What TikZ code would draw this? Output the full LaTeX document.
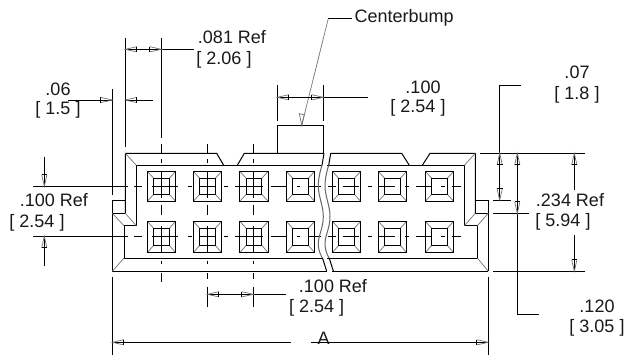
\documentclass[tikz,border=0pt]{standalone}
\usepackage{fontspec}
\setmainfont{Liberation Sans}
\newcommand{\arrR}[2]{\draw[ahgray] (#1-11.5,#2-2.6) -- (#1,#2) -- (#1-11.5,#2+2.6);\draw[ahbase] (#1-11.5,#2-2.8) -- (#1-11.5,#2+2.8);}
\newcommand{\arrL}[2]{\draw[ahgray] (#1+11.5,#2-2.6) -- (#1,#2) -- (#1+11.5,#2+2.6);\draw[ahbase] (#1+11.5,#2-2.8) -- (#1+11.5,#2+2.8);}
\newcommand{\arrD}[2]{\draw[ahgray] (#1-2.6,#2-11.5) -- (#1,#2) -- (#1+2.6,#2-11.5);\draw[ahbase] (#1-2.8,#2-11.5) -- (#1+2.8,#2-11.5);}
\newcommand{\arrU}[2]{\draw[ahgray] (#1-2.6,#2+11.5) -- (#1,#2) -- (#1+2.6,#2+11.5);\draw[ahbase] (#1-2.8,#2+11.5) -- (#1+2.8,#2+11.5);}
\tikzset{
  x=1pt,y=-1pt,
  ln/.style={line width=1pt,black,line cap=butt},
  thin gray/.style={line width=.7pt,black!55},
  ahgray/.style={line width=.7pt,black!55},
  ahbase/.style={line width=.8pt,black},
  dimtext/.style={font=\fontsize{18}{18}\selectfont,inner sep=0pt,anchor=center,text=black!90},
}
\begin{document}
\begin{tikzpicture}
\useasboundingbox (0,0) rectangle (626,356);
\fill[white] (0,0) rectangle (626,356);
% body outline
\draw[ln] (125.3,213.3) -- (125.3,153.3) -- (216.7,153.3) -- (223.7,165.3);
\draw[ln] (237.3,165.3) -- (244.3,153.3) -- (324,153.3);
\draw[ln] (330.7,153.3) -- (401.7,153.3) -- (409.3,165.3);
\draw[ln] (422.3,165.3) -- (430,153.3) -- (475.3,153.3) -- (475.3,213.3);
\draw[ln] (112.3,271.3) -- (112.3,200.3) -- (125.3,200.3);
\draw[ln] (112.3,213.3) -- (125.3,213.3);
\draw[ln] (475.3,200.3) -- (488.3,200.3) -- (488.3,271.3);
\draw[ln] (475.3,213.3) -- (488.3,213.3);
\draw[ln] (112.3,271.3) -- (326.7,271.3);
\draw[ln] (332.3,271.3) -- (488.3,271.3);
% inner
\draw[ln] (322,165.3) -- (136.3,165.3) -- (136.3,225.7) -- (124,225.7) -- (124,258) -- (322,258);
\draw[ln] (327,165.3) -- (464.3,165.3) -- (464.3,225.7) -- (477.3,225.7) -- (477.3,258) -- (327,258);
% corner mitres
\draw[thin gray] (125.3,153.3) -- (136.3,165.3) (112.3,213.3) -- (124,225.7) (125.3,213.3) -- (136.3,225.7) (112.3,271.3) -- (124,258)
  (475.3,153.3) -- (464.3,165.3) (475.3,213.3) -- (464.3,225.7) (488.3,213.3) -- (477.3,225.7) (488.3,271.3) -- (477.3,258);
% bump
\draw[ln] (277.3,153.3) -- (277.3,125.3) -- (323.3,125.3) -- (323.3,153.3);
% pins
\foreach \c in {161.5,207.5,254,300.5,346.5,392.5,439.5}{
  \foreach \t/\b/\it/\ib in {171.3/201.3/178.3/194.3,221.3/252.7/228.3/245.3}{
    \draw[thin gray] (\c-14.2,\b) -- (\c-7.8,\ib) (\c+14.2,\b) -- (\c+7.8,\ib) (\c-14.2,\t) -- (\c-7.8,\it) (\c+14.2,\t) -- (\c+7.8,\it);
    \draw[ln] (\c-14.2,\t) rectangle (\c+14.2,\b);
    \draw[ln] (\c-7.8,\it) rectangle (\c+7.8,\ib);
  }
}
% horizontal centre lines
\foreach \y in {186.3,236.3}{
  \foreach \a/\b in {33/128,134/141.7,152.3/177.7,188.3/191.7,200/215,224/228.3,235/263.3,271.3/286,296.7/300,308/321,328/332,332.7/336,343.3/359.3,368.3/372.3,378.3/395,405/409,416/431.7,441/445,452.3/460.7}{
    \draw[ln] (\a,\y) -- (\b,\y);
  }
}
% vertical centre lines
\foreach \x in {161.3,207.3,253.3}{
  \foreach \a/\b in {144/153.3,159.3/163.3,171.7/198,205/215,226/253,260.7/264}{
    \draw[ln] (\x,\a) -- (\x,\b);
  }
}
\draw[ln] (161.3,273) -- (161.3,281.7);
\foreach \x in {207.3,253.3}{
  \draw[ln] (\x,273) -- (\x,279.3) (\x,286.7) -- (\x,306.7);
}
% break lines
\foreach \d in {0,6.7}{
  \draw[line width=1pt,black!60] plot[smooth,tension=.7] coordinates {(322+\d,165.3) (318.3+\d,186.7) (323.3+\d,216.7) (318.3+\d,243.3) (322.3+\d,258)};
  \draw[ln] (324+\d,153.3) -- (322+\d,165.3);
  \draw[ln] (322.5+\d,258) -- (326.7+\d,271.3);
}
% .081 dimension
\draw[ln] (125.3,37.7) -- (125.3,147);
\draw[ln] (161.3,37.7) -- (161.3,138.3);
\draw[ln] (125.3,49.3) -- (194,49.3);
\arrL{125.3}{49.3}\arrR{161.3}{49.3}
\node[dimtext] (t081a) at (232,37.5) {.081 Ref};
\node[dimtext] (t081b) at (224,59.5) {[ 2.06 ]};
% .06 dimension
\draw[ln] (112.3,89) -- (112.3,195);
\draw[ln] (68.3,100) -- (112.3,100);
\draw[ln] (125.3,100) -- (152.7,100);
\arrR{112.3}{100}\arrL{125.3}{100}
\node[dimtext] (t06a) at (58,89) {.06};
\node[dimtext] (t06b) at (58,110) {[ 1.5 ]};
% centerbump
\coordinate (bumpknee) at (328.3,18.5);
\coordinate (bumptip) at (301.7,125.3);
\node[font=\fontsize{18}{18}\selectfont,inner sep=0pt,anchor=west,text=black!90] (cb) at (354.5,17.5) {Centerbump};
\draw[ln] (351.7,18.5) -- (bumpknee);
\draw[thin gray] (bumpknee) -- (bumptip);
\draw[ahgray] (299.3,113.6) -- (bumptip) -- (304.3,115) -- cycle;
% .100 top dimension
\draw[ln] (277.3,85) -- (277.3,120.7);
\draw[ln] (323.3,85) -- (323.3,120.7);
\draw[ln] (277.3,97.3) -- (368,97.3);
\arrL{277.3}{97.3}\arrR{323.3}{97.3}
\node[dimtext] (t100a) at (423,87) {.100};
\node[dimtext] (t100b) at (418,107.5) {[ 2.54 ]};
% left .100
\draw[ln] (44.3,156.7) -- (44.3,186.3);
\draw[ln] (44.3,236.3) -- (44.3,265.7);
\arrD{44.3}{186.3}\arrU{44.3}{236.3}
\node[dimtext] (t100c) at (54,200) {.100 Ref};
\node[dimtext] (t100d) at (37,222.5) {[ 2.54 ]};
% right dimensions
\draw[ln] (480,153.3) -- (585,153.3);
\draw[ln] (493.3,271.3) -- (585,271.3);
\draw[ln] (493.3,200.3) -- (510.7,200.3);
\draw[ln] (493.3,213.3) -- (528.7,213.3);
\draw[ln] (521,85.3) -- (499.7,85.3) -- (499.7,200.3);
\arrU{499.7}{153.3}\arrD{499.7}{200.3}
\draw[ln] (517.3,153.3) -- (517.3,314.3) -- (539,314.3);
\arrU{517.3}{153.3}\arrD{517.3}{213.3}
\draw[ln] (574.3,153.3) -- (574.3,190);
\draw[ln] (574.3,235) -- (574.3,271.3);
\arrU{574.3}{153.3}\arrD{574.3}{271.3}
\node[dimtext] (t07a) at (577,72) {.07};
\node[dimtext] (t07b) at (577,95) {[ 1.8 ]};
\node[dimtext] (t234a) at (570,200) {.234 Ref};
\node[dimtext] (t234b) at (563,222) {[ 5.94 ]};
\node[dimtext] (t120a) at (597,306) {.120};
\node[dimtext] (t120b) at (597,327.5) {[ 3.05 ]};
% bottom .100
\draw[ln] (207.3,294.3) -- (286,294.3);
\arrL{207.3}{294.3}\arrR{253.3}{294.3}
\node[dimtext] (t100e) at (333,286.5) {.100 Ref};
\node[dimtext] (t100f) at (316.7,308) {[ 2.54 ]};
% A dimension
\draw[ln] (112.3,277.3) -- (112.3,355);
\draw[ln] (488.3,277.3) -- (488.3,355);
\draw[ln] (112.3,342.3) -- (291,342.3);
\draw[ln] (311,342.3) -- (488.3,342.3);
\arrL{112.3}{342.3}\arrR{488.3}{342.3}
\node[dimtext] (tA) at (323.5,338) {A};
\end{tikzpicture}
\end{document}
